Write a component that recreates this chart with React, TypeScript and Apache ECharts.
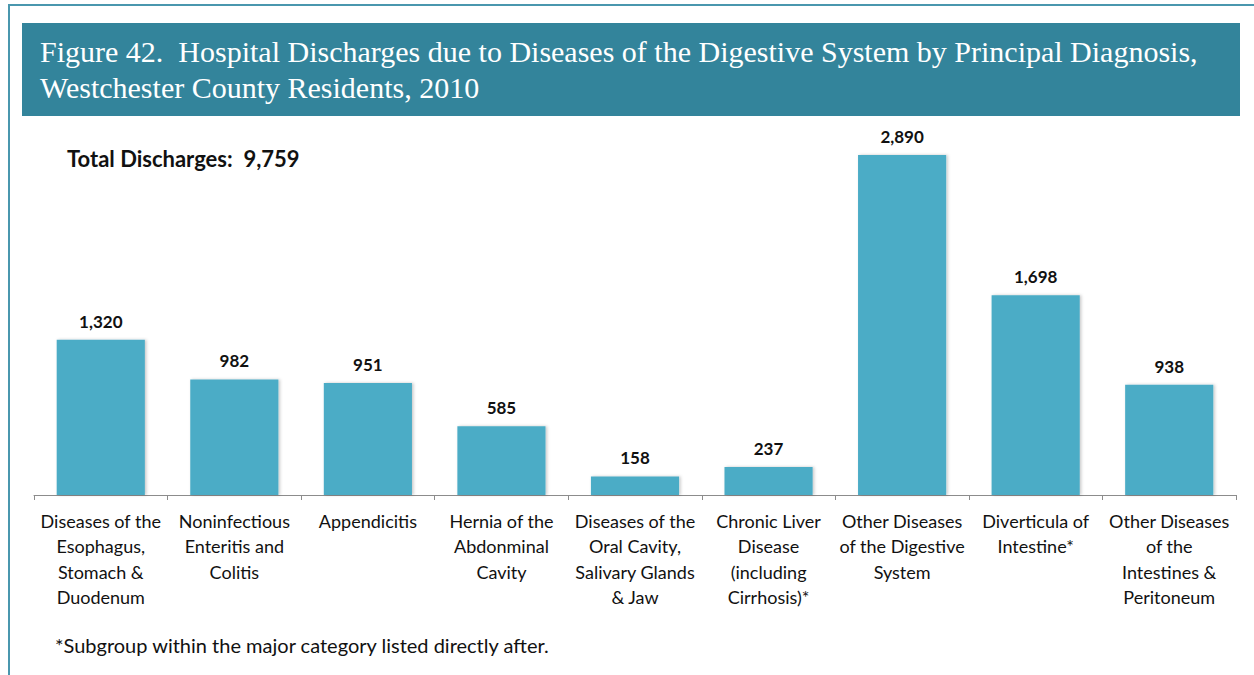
import React, { useEffect, useRef } from "react";
import * as echarts from "echarts";

const categories = [
  "Diseases of the\nEsophagus,\nStomach &\nDuodenum",
  "Noninfectious\nEnteritis and\nColitis",
  "Appendicitis",
  "Hernia of the\nAbdonminal\nCavity",
  "Diseases of the\nOral Cavity,\nSalivary Glands\n& Jaw",
  "Chronic Liver\nDisease\n(including\nCirrhosis)*",
  "Other Diseases\nof the Digestive\nSystem",
  "Diverticula of\nIntestine*",
  "Other Diseases\nof the\nIntestines &\nPeritoneum",
];
const values = [1320, 982, 951, 585, 158, 237, 2890, 1698, 938];
const titleLines = [
  "Figure 42.  Hospital Discharges due to Diseases of the Digestive System by Principal Diagnosis,",
  "Westchester County Residents, 2010",
];
const totalText = "Total Discharges:  9,759";
const footnote = "*Subgroup within the major category listed directly after.";

export default function App() {
  const ref = useRef<HTMLDivElement>(null);
  useEffect(() => {
    if (!ref.current) return;
    const chart = echarts.init(ref.current, null, { renderer: "svg" });
    const font = "Lato, 'Open Sans', sans-serif";
    chart.setOption({
      animation: false,
      backgroundColor: "#ffffff",
      grid: { left: 34, right: 18, top: 142, bottom: 180, containLabel: false },
      xAxis: {
        type: "category",
        data: categories,
        axisLine: { lineStyle: { color: "#8c8c8c", width: 1 } },
        axisTick: { show: true, length: 5, lineStyle: { color: "#8c8c8c" } },
        axisLabel: {
          interval: 0,
          color: "#111",
          fontFamily: font,
          fontSize: 18,
          lineHeight: 25.5,
          margin: 13,
        },
      },
      yAxis: {
        type: "value",
        min: 0,
        max: 3000,
        show: false,
        splitLine: { show: false },
      },
      series: [
        {
          type: "bar",
          data: values,
          barWidth: "66%",
          itemStyle: {
            color: "#4BACC6",
            shadowColor: "rgba(0,0,0,0.22)",
            shadowBlur: 3,
            shadowOffsetX: 1.5,
            shadowOffsetY: 0,
          },
          label: {
            show: true,
            position: "top",
            distance: 10,
            color: "#111",
            fontFamily: font,
            fontWeight: "bold",
            fontSize: 17,
            formatter: (p: any) => Number(p.value).toLocaleString("en-US"),
          },
        },
      ],
      graphic: [
        {
          type: "rect",
          shape: { x: 9, y: 5, width: 1300, height: 700 },
          style: { fill: "none", stroke: "#4A97AE", lineWidth: 2 },
          silent: true,
        },
        {
          type: "rect",
          shape: { x: 22, y: 23, width: 1218, height: 93 },
          style: { fill: "#33849B" },
          silent: true,
        },
        {
          type: "text",
          x: 40,
          y: 33,
          style: {
            text: titleLines.join("\n"),
            fill: "#ffffff",
            font: "30px 'Liberation Serif', 'DejaVu Serif', serif",
            lineHeight: 36,
          },
          silent: true,
        },
        {
          type: "text",
          x: 67,
          y: 147,
          style: {
            text: totalText,
            fill: "#111",
            font: "bold 22px Lato, 'Open Sans', sans-serif",
          },
          silent: true,
        },
        {
          type: "text",
          x: 55,
          y: 635,
          style: {
            text: footnote,
            fill: "#111",
            font: "20px Lato, 'Open Sans', sans-serif",
          },
          silent: true,
        },
      ],
    });
    return () => chart.dispose();
  }, []);
  return (
    <div
      ref={ref}
      style={{ position: "fixed", left: 0, top: 0, width: 1254, height: 675 }}
    />
  );
}
